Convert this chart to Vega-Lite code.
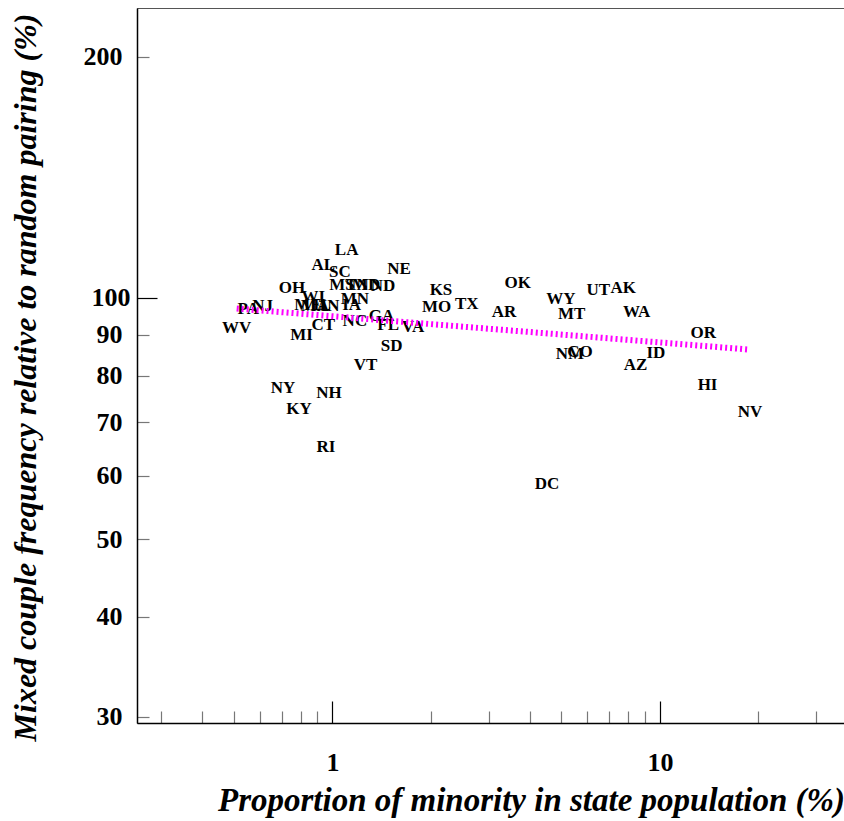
{
  "$schema": "https://vega.github.io/schema/vega-lite/v6.json",
  "width": 715,
  "height": 715,
  "autosize": {"type": "none"},
  "padding": {"left": 137, "top": 8, "right": 0, "bottom": 98},
  "background": "white",
  "config": {"view": {"stroke": "#555", "strokeWidth": 1}},
  "datasets": {
    "states": [
      {"state": "LA", "x": 1.105, "y": 114.7},
      {"state": "AL", "x": 0.937, "y": 110.1},
      {"state": "SC", "x": 1.054, "y": 107.8},
      {"state": "NE", "x": 1.596, "y": 108.8},
      {"state": "OH", "x": 0.752, "y": 102.8},
      {"state": "MS", "x": 1.069, "y": 103.7},
      {"state": "TN", "x": 1.188, "y": 103.7},
      {"state": "MD", "x": 1.266, "y": 103.7},
      {"state": "ND", "x": 1.426, "y": 103.4},
      {"state": "WI", "x": 0.874, "y": 100.3},
      {"state": "ME", "x": 0.842, "y": 98.1},
      {"state": "MA", "x": 0.884, "y": 97.6},
      {"state": "IL", "x": 0.929, "y": 97.9},
      {"state": "IN", "x": 0.983, "y": 97.6},
      {"state": "IA", "x": 1.144, "y": 98.1},
      {"state": "MN", "x": 1.171, "y": 99.6},
      {"state": "CT", "x": 0.937, "y": 92.4},
      {"state": "NC", "x": 1.171, "y": 93.5},
      {"state": "GA", "x": 1.413, "y": 94.9},
      {"state": "FL", "x": 1.48, "y": 92.4},
      {"state": "VA", "x": 1.762, "y": 91.9},
      {"state": "MI", "x": 0.805, "y": 90.0},
      {"state": "PA", "x": 0.553, "y": 97.0},
      {"state": "NJ", "x": 0.612, "y": 97.7},
      {"state": "WV", "x": 0.51, "y": 91.8},
      {"state": "KS", "x": 2.145, "y": 102.2},
      {"state": "MO", "x": 2.081, "y": 97.4},
      {"state": "TX", "x": 2.57, "y": 98.3},
      {"state": "SD", "x": 1.516, "y": 87.1},
      {"state": "VT", "x": 1.263, "y": 82.4},
      {"state": "OK", "x": 3.678, "y": 104.3},
      {"state": "AR", "x": 3.34, "y": 96.1},
      {"state": "WY", "x": 4.985, "y": 99.6},
      {"state": "MT", "x": 5.375, "y": 95.4},
      {"state": "UT", "x": 6.48, "y": 102.3},
      {"state": "AK", "x": 7.726, "y": 102.8},
      {"state": "WA", "x": 8.49, "y": 96.1},
      {"state": "OR", "x": 13.56, "y": 90.3},
      {"state": "NM", "x": 5.311, "y": 85.2},
      {"state": "CO", "x": 5.697, "y": 85.6},
      {"state": "ID", "x": 9.723, "y": 85.4},
      {"state": "AZ", "x": 8.43, "y": 82.4},
      {"state": "HI", "x": 13.98, "y": 77.8},
      {"state": "NV", "x": 18.83, "y": 72.1},
      {"state": "NY", "x": 0.706, "y": 77.1},
      {"state": "KY", "x": 0.79, "y": 72.6},
      {"state": "NH", "x": 0.976, "y": 76.0},
      {"state": "RI", "x": 0.955, "y": 65.2},
      {"state": "DC", "x": 4.519, "y": 58.6}
    ],
    "trend": [
      {"x": 0.51, "y": 97.0},
      {"x": 18.8, "y": 86.2}
    ]
  },
  "layer": [
    {
      "data": {"name": "states"},
      "mark": {"type": "text", "font": "Liberation Serif", "fontWeight": "bold", "fontSize": 17, "color": "#000", "align": "center", "baseline": "middle"},
      "encoding": {
        "x": {
          "field": "x", "type": "quantitative",
          "scale": {"type": "log", "domain": [0.253, 38.6], "nice": false, "zero": false},
          "axis": {
            "values": [0.3, 0.4, 0.5, 0.6, 0.7, 0.8, 0.9, 1, 2, 3, 4, 5, 6, 7, 8, 9, 10, 20, 30],
            "labelExpr": "datum.value == 1 || datum.value == 10 ? format(datum.value, 'd') : ''",
            "grid": false,
            "domain": true, "domainColor": "#000", "domainWidth": 1.5,
            "tickSize": {"condition": {"test": "datum.value == 1 || datum.value == 10", "value": -22}, "value": -12},
            "tickColor": {"condition": {"test": "datum.value == 1 || datum.value == 10", "value": "#000"}, "value": "#777"},
            "tickWidth": 1.2,
            "labelFont": "Liberation Serif", "labelFontWeight": "bold", "labelFontSize": 26, "labelColor": "#000",
            "labelPadding": 48, "labelFlush": false, "labelOverlap": false,
            "title": "Proportion of minority in state population (%)",
            "titleFont": "Liberation Serif", "titleFontWeight": "bold", "titleFontStyle": "italic", "titleFontSize": 33, "titleColor": "#000",
            "titleX": 394, "titleY": 77, "titleAlign": "center", "titleBaseline": "middle"
          }
        },
        "y": {
          "field": "y", "type": "quantitative",
          "scale": {"type": "log", "domain": [29.46, 230.2], "nice": false, "zero": false},
          "axis": {
            "values": [30, 40, 50, 60, 70, 80, 90, 100, 200],
            "format": "d",
            "grid": false,
            "domain": true, "domainColor": "#000", "domainWidth": 1.5,
            "tickSize": {"condition": {"test": "datum.value == 100", "value": -20}, "value": -12},
            "tickColor": {"condition": {"test": "datum.value == 100", "value": "#000"}, "value": "#777"},
            "tickWidth": 1.2,
            "labelFont": "Liberation Serif", "labelFontWeight": "bold", "labelFontSize": 26, "labelColor": "#000",
            "labelPadding": 27, "labelFlush": false, "labelOverlap": false,
            "title": "Mixed couple frequency relative to random pairing (%)",
            "titleFont": "Liberation Serif", "titleFontWeight": "bold", "titleFontStyle": "italic", "titleFontSize": 32, "titleColor": "#000",
            "titleX": -112, "titleY": 369, "titleAlign": "center", "titleBaseline": "middle", "titleAngle": -90
          }
        },
        "text": {"field": "state", "type": "nominal"}
      }
    },
    {
      "data": {"name": "trend"},
      "mark": {"type": "line", "color": "#FF00FF", "strokeWidth": 6, "strokeDash": [2, 3]},
      "encoding": {
        "x": {"field": "x", "type": "quantitative"},
        "y": {"field": "y", "type": "quantitative"}
      }
    }
  ]
}
